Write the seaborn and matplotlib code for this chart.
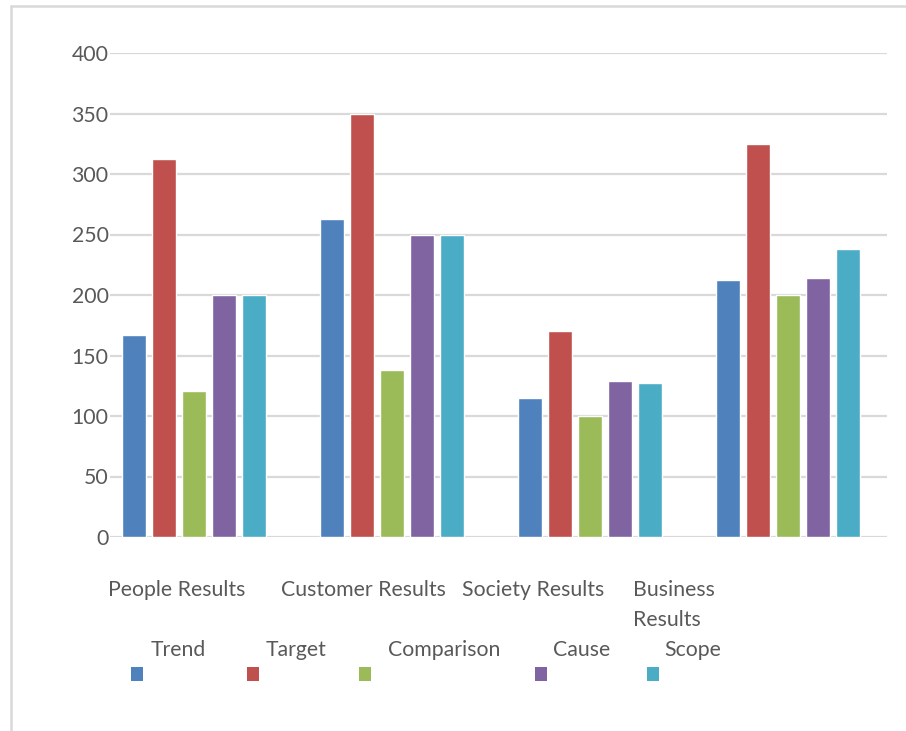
import matplotlib
matplotlib.use("Agg")
import matplotlib.pyplot as plt
import seaborn as sns
import pandas as pd
from matplotlib.patches import Rectangle
from matplotlib.lines import Line2D

# ---- data ----
categories = ["People Results", "Customer Results", "Society Results", "Business\nResults"]
series_names = ["Trend", "Target", "Comparison", "Cause", "Scope"]
trend = [167, 263, 115, 212]
target = [312, 350, 170, 325]
comparison = [121, 138, 100, 200]
cause = [200, 250, 129, 214]
scope = [200, 250, 127, 238]
y_ticks = [0, 50, 100, 150, 200, 250, 300, 350, 400]
colors = ["#4F81BD", "#C0504D", "#9BBB59", "#8064A2", "#4BACC6"]

values = [trend, target, comparison, cause, scope]
rows = []
for name, vals in zip(series_names, values):
    for cat, v in zip(categories, vals):
        rows.append({"category": cat, "series": name, "value": v})
df = pd.DataFrame(rows)

sns.set_style("white")
plt.rcParams['font.family'] = ['Lato', 'DejaVu Sans']
TXT = "#595959"
FS = 15.3

W, H = 906, 731
fig = plt.figure(figsize=(W / 100, H / 100), dpi=100)

def fx(px):
    return px / W

def fy(py):
    return 1 - py / H

ax_left, ax_right, ax_top, ax_bot = 110, 887, 53, 537
ax = fig.add_axes([fx(ax_left), fy(ax_bot), fx(ax_right) - fx(ax_left), fy(ax_top) - fy(ax_bot)])

sns.barplot(data=df, x="category", y="value", hue="series", order=categories,
            hue_order=series_names, palette=colors, saturation=1,
            width=0.76, gap=0.2, legend=False, ax=ax)

ax.set_xlim(-0.424, 3.5)
ax.set_ylim(0, 400)
ax.set_yticks(y_ticks)
ax.set_yticklabels([str(t) for t in y_ticks])
ax.yaxis.grid(True, color="#d9d9d9", linewidth=1.6)
ax.set_axisbelow(True)
for s in ax.spines.values():
    s.set_visible(False)
ax.tick_params(axis="y", length=0, pad=1.0, labelsize=FS, labelcolor=TXT)
ax.tick_params(axis="x", length=0)
ax.set_xticks([])
ax.set_xlabel("")
ax.set_ylabel("")

# category labels (Excel-like wrapped layout)
cat_x = [108, 281, 462, 633]
for cat, px in zip(categories, cat_x):
    for i, line in enumerate(cat.split("\n")):
        fig.text(fx(px), fy(596 + 30 * i), line, ha="left", va="baseline",
                 fontsize=FS, color=TXT)

# legend: label above its colour square
leg_text_x = [151, 266, 388, 553, 664]
leg_mark_x = [131, 247, 359, 535, 647]
for name, col, tx, mx in zip(series_names, colors, leg_text_x, leg_mark_x):
    fig.text(fx(tx), fy(656), name, ha="left", va="baseline", fontsize=FS, color=TXT)
    fig.add_artist(Rectangle((fx(mx), fy(681)), 12 / W, 14 / H,
                             transform=fig.transFigure, facecolor=col, edgecolor="none"))

# chart frame
fig.add_artist(Line2D([fx(11), 1], [fy(6), fy(6)], transform=fig.transFigure,
                      color="#d9d9d9", linewidth=1.8))
fig.add_artist(Line2D([fx(11), fx(11)], [fy(6), 0], transform=fig.transFigure,
                      color="#d9d9d9", linewidth=1.8))

fig.savefig("out.png", dpi=100, facecolor="white")
